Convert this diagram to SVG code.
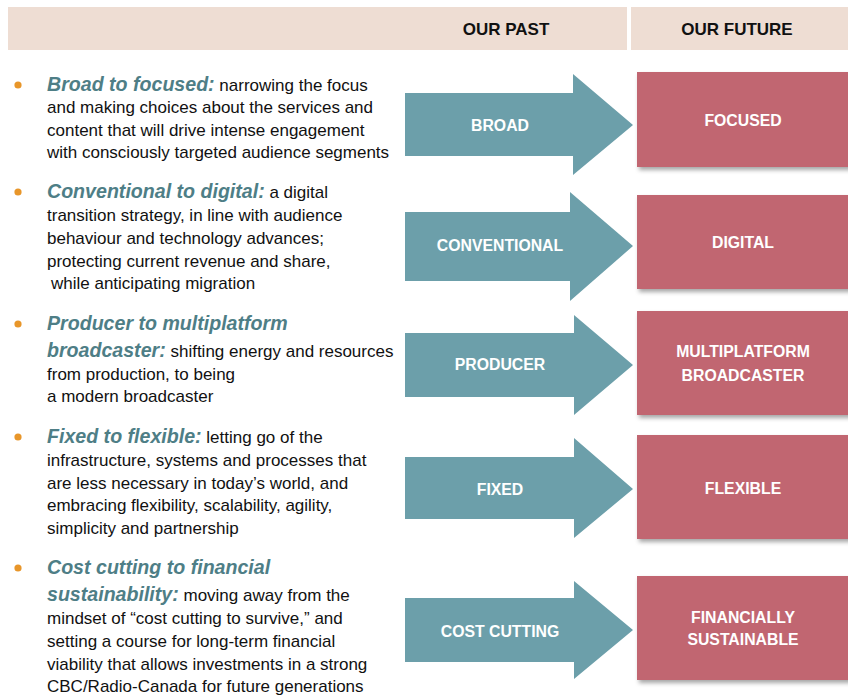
<svg xmlns="http://www.w3.org/2000/svg" width="848" height="696" viewBox="0 0 848 696">
  <defs>
    <filter id="shadow" x="-10%" y="-10%" width="130%" height="140%">
      <feDropShadow dx="2" dy="3" stdDeviation="2" flood-color="#000" flood-opacity="0.35"/>
    </filter>
    <style>
      .band { fill: #EEDDD3; }
      .band-label { font-family: "Liberation Sans", Arial, sans-serif; font-weight: bold; font-size: 17px; fill: #111; text-anchor: middle; }
      .arrow { fill: #6C9FAA; }
      .box { fill: #C16671; filter: url(#shadow); }
      .node-label { font-family: "Liberation Sans", Arial, sans-serif; font-weight: bold; font-size: 15.8px; fill: #fff; text-anchor: middle; }
      .dot { fill: #E8962A; }
      .body { font-family: "Liberation Sans", Arial, sans-serif; font-size: 17px; fill: #111; }
      .head { font-family: "Liberation Sans", Arial, sans-serif; font-weight: bold; font-style: italic; font-size: 19.6px; fill: #4E7E86; }
    </style>
  </defs>

  <!-- column header bands -->
  <g id="header">
    <rect class="band" x="8" y="7" width="619" height="43"/>
    <rect class="band" x="631" y="7" width="217" height="43"/>
    <text class="band-label" x="506" y="34.5">OUR PAST</text>
    <text class="band-label" x="737" y="34.5">OUR FUTURE</text>
  </g>

  <!-- descriptive bullets -->
  <g id="bullets">
    <circle class="dot" cx="18" cy="85" r="3.6"/>
    <text class="body" x="47" y="91"><tspan class="head">Broad to focused:</tspan> narrowing the focus</text>
    <text class="body" x="47" y="113">and making choices about the services and</text>
    <text class="body" x="47" y="136">content that will drive intense engagement</text>
    <text class="body" x="47" y="158">with consciously targeted audience segments</text>

    <circle class="dot" cx="18" cy="192" r="3.6"/>
    <text class="body" x="47" y="198"><tspan class="head">Conventional to digital:</tspan> a digital</text>
    <text class="body" x="47" y="221">transition strategy, in line with audience</text>
    <text class="body" x="47" y="244">behaviour and technology advances;</text>
    <text class="body" x="47" y="267">protecting current revenue and share,</text>
    <text class="body" x="51" y="289">while anticipating migration</text>

    <circle class="dot" cx="18" cy="324" r="3.6"/>
    <text class="head" x="47" y="330">Producer to multiplatform</text>
    <text class="body" x="47" y="357"><tspan class="head">broadcaster:</tspan> shifting energy and resources</text>
    <text class="body" x="47" y="380">from production, to being</text>
    <text class="body" x="47" y="402">a modern broadcaster</text>

    <circle class="dot" cx="18" cy="437" r="3.6"/>
    <text class="body" x="47" y="443"><tspan class="head">Fixed to flexible:</tspan> letting go of the</text>
    <text class="body" x="47" y="466">infrastructure, systems and processes that</text>
    <text class="body" x="47" y="489">are less necessary in today’s world, and</text>
    <text class="body" x="47" y="511">embracing flexibility, scalability, agility,</text>
    <text class="body" x="47" y="534">simplicity and partnership</text>

    <circle class="dot" cx="18" cy="568" r="3.6"/>
    <text class="head" x="47" y="574">Cost cutting to financial</text>
    <text class="body" x="47" y="601"><tspan class="head">sustainability:</tspan> moving away from the</text>
    <text class="body" x="47" y="624">mindset of “cost cutting to survive,” and</text>
    <text class="body" x="47" y="647">setting a course for long-term financial</text>
    <text class="body" x="47" y="670">viability that allows investments in a strong</text>
    <text class="body" x="47" y="692">CBC/Radio-Canada for future generations</text>
  </g>

  <!-- past-state arrows -->
  <g id="past-broad">
    <polygon class="arrow" points="405,93 573,93 573,74 633,125 573,175 573,156 405,156"/>
    <text class="node-label" x="500" y="131">BROAD</text>
  </g>
  <g id="past-conventional">
    <polygon class="arrow" points="405,212 570,212 570,192 633,246 570,301 570,281 405,281"/>
    <text class="node-label" x="500" y="251">CONVENTIONAL</text>
  </g>
  <g id="past-producer">
    <polygon class="arrow" points="405,333 574,333 574,315 633,365 574,415 574,397 405,397"/>
    <text class="node-label" x="500" y="370">PRODUCER</text>
  </g>
  <g id="past-fixed">
    <polygon class="arrow" points="405,457 574,457 574,438 633,489 574,538 574,519 405,519"/>
    <text class="node-label" x="500" y="495">FIXED</text>
  </g>
  <g id="past-cost-cutting">
    <polygon class="arrow" points="405,598 574,598 574,581 633,630 574,679 574,662 405,662"/>
    <text class="node-label" x="500" y="637">COST CUTTING</text>
  </g>

  <!-- future-state boxes -->
  <g id="future-focused">
    <rect class="box" x="637" y="72" width="213" height="95"/>
    <text class="node-label" x="743" y="126">FOCUSED</text>
  </g>
  <g id="future-digital">
    <rect class="box" x="637" y="195" width="213" height="94"/>
    <text class="node-label" x="743" y="248">DIGITAL</text>
  </g>
  <g id="future-multiplatform">
    <rect class="box" x="637" y="311" width="213" height="104"/>
    <text class="node-label" x="743" y="357">MULTIPLATFORM</text>
    <text class="node-label" x="743" y="381">BROADCASTER</text>
  </g>
  <g id="future-flexible">
    <rect class="box" x="637" y="435" width="213" height="104"/>
    <text class="node-label" x="743" y="494">FLEXIBLE</text>
  </g>
  <g id="future-sustainable">
    <rect class="box" x="637" y="576" width="213" height="104"/>
    <text class="node-label" x="743" y="623">FINANCIALLY</text>
    <text class="node-label" x="743" y="645">SUSTAINABLE</text>
  </g>
</svg>
